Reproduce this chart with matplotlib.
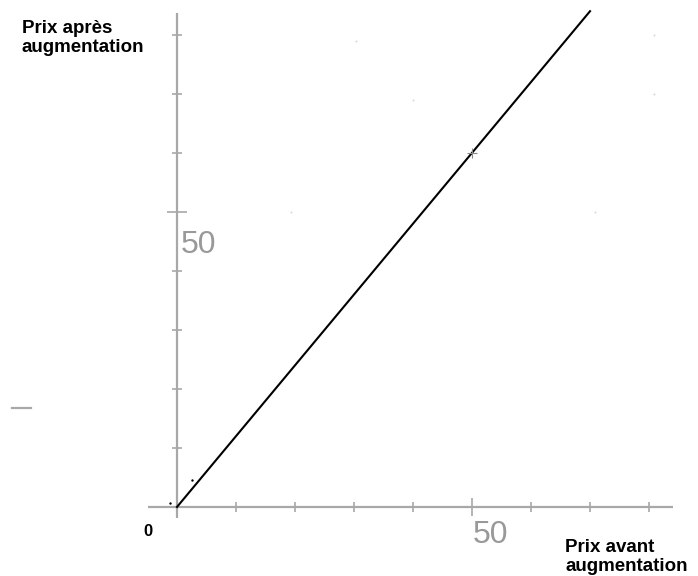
import matplotlib
matplotlib.use("Agg")
import matplotlib.pyplot as plt

# price before / after a 20% increase
prix_avant = [0, 70]
prix_apres = [0, 84]

x_ticks = [10, 20, 30, 40, 50, 60, 70, 80]
y_ticks = [10, 20, 30, 40, 50, 60, 70, 80]
major = 50

point_x = [50]
point_y = [60]

# stray faint dots in the picture
faint_x = [19.3, 40.0, 70.8, 80.8, 80.8, 30.3]
faint_y = [50.0, 69.0, 50.0, 80.0, 70.0, 79.0]
black_x = [2.5, -1.2]
black_y = [4.6, 0.7]

AXIS = "#a8a8a8"
plt.rcParams['font.family'] = ['Liberation Sans', 'DejaVu Sans']

fig = plt.figure(figsize=(6.98, 5.76), dpi=100)
ax = fig.add_axes([0, 0, 1, 1])
ax.set_xlim(-30, 88.3)
ax.set_ylim(-11.7, 85.9)
ax.axis('off')

# axes
ax.plot([-5, 84.1], [0, 0], color=AXIS, lw=1.6, solid_capstyle='butt')
ax.plot([0, 0], [-1.9, 83.7], color=AXIS, lw=1.6, solid_capstyle='butt')

# ticks
for t in x_ticks:
    ax.plot([t], [0], marker='|', color=AXIS, ms=13 if t == major else 7.5, mew=1.2)
for t in y_ticks:
    ax.plot([0], [t], marker='_', color=AXIS, ms=15 if t == major else 7.5, mew=1.2)

# stray mark on the left
ax.plot([-28, -24.7], [16.8, 16.8], color=AXIS, lw=1.6)

ax.scatter(faint_x, faint_y, s=2, color="#d8d8d8", lw=0)
ax.scatter(black_x, black_y, s=3, color="black", lw=0)

ax.plot(prix_avant, prix_apres, color="black", lw=1.5)
ax.plot(point_x, point_y, marker='+', color="#888888", ms=7, mew=0.8)

ax.text(-4.9, -4.2, "0", fontsize=12, fontweight='bold', ha='center', va='center')
ax.text(53.1, -4.7, "50", fontsize=23, color="#999999", ha='center', va='center')
ax.text(0.6, 44.4, "50", fontsize=23, color="#999999", ha='left', va='center')

ax.text(-26.3, 82.5, "Prix après\naugmentation", fontsize=13.5, fontweight='bold',
        ha='left', va='top', linespacing=1.15)
ax.text(65.8, -5.4, "Prix avant\naugmentation", fontsize=13.5, fontweight='bold',
        ha='left', va='top', linespacing=1.15)

fig.savefig("out.png", dpi=100)
